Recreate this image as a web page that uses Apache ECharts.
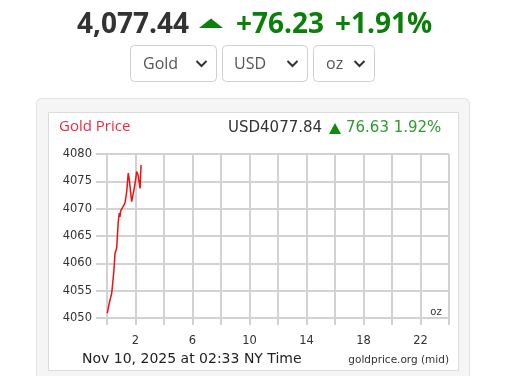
<!DOCTYPE html>
<html>
<head>
<meta charset="utf-8">
<script src="https://cdn.jsdelivr.net/npm/echarts@6/dist/echarts.min.js"></script>
<style>
  html, body { margin: 0; padding: 0; background: #fff; }
  #main { width: 513px; height: 376px; }
</style>
</head>
<body>
<div id="main"></div>
<script>
// hours since midnight NY time, and the mid price at that moment
var hours  = [0.02, 0.15, 0.33, 0.40, 0.48, 0.56, 0.68, 0.79, 0.86, 0.91, 0.96, 1.07, 1.26, 1.38, 1.49, 1.56, 1.73, 1.89, 2.02, 2.08, 2.18, 2.32, 2.39];
var prices = [4050.9, 4052.6, 4054.5, 4054.8, 4058.5, 4061.8, 4062.8, 4067.6, 4069.2, 4068.5, 4069.6, 4069.8, 4071.0, 4073.0, 4076.5, 4075.4, 4071.3, 4073.4, 4075.5, 4076.8, 4076.2, 4073.7, 4078.0];
var xLabels = [2, 6, 10, 14, 18, 22];

var lastPrice = '4,077.44', change = '+76.23', changePct = '+1.91%';
var selects = ['Gold', 'USD', 'oz'];

var chart = echarts.init(document.getElementById('main'), null, {renderer: 'canvas'});

var lineData = [];
for (var i = 0; i < hours.length; i++) lineData.push([hours[i], prices[i]]);

var gridColor = '#d2d2d2';

// dropdown boxes
var boxes = [
    {x: 130.5, w: 86, tx: 143},
    {x: 222.5, w: 85, tx: 234},
    {x: 313.5, w: 61, tx: 326}
];
var selectGraphics = [];
boxes.forEach(function(b, i){
    selectGraphics.push({
        type: 'rect', shape: {x: b.x, y: 45.5, width: b.w, height: 36, r: 4},
        style: {fill: '#fff', stroke: '#d0d0d0', lineWidth: 1}
    });
    selectGraphics.push({
        type: 'text', style: {text: selects[i], x: b.tx, y: 64, fill: '#555',
            font: '16px "Open Sans"', textVerticalAlign: 'middle'}
    });
    var cx = b.x + b.w - 15;
    selectGraphics.push({
        type: 'polyline', shape: {points: [[cx - 5, 61], [cx, 66], [cx + 5, 61]]},
        style: {stroke: '#333', lineWidth: 2, fill: null}
    });
});

var option = {
    backgroundColor: '#fff',
    animation: false,
    grid: {left: 107, right: 64, top: 154, bottom: 58},
    xAxis: {
        type: 'value', min: 0, max: 24, interval: 2,
        axisLine: {show: true, lineStyle: {color: gridColor, width: 2}},
        axisTick: {show: true, length: 7, lineStyle: {color: gridColor, width: 2}},
        splitLine: {show: true, lineStyle: {color: gridColor, width: 2}},
        axisLabel: {
            margin: 17, color: '#333', fontSize: 11.5, fontFamily: 'DejaVu Sans',
            formatter: function(v){ return xLabels.indexOf(v) >= 0 ? String(v) : ''; }
        }
    },
    yAxis: {
        type: 'value', min: 4050, max: 4080, interval: 5,
        axisLine: {show: false},
        axisTick: {show: true, length: 11, lineStyle: {color: gridColor, width: 2}},
        splitLine: {show: true, lineStyle: {color: gridColor, width: 2}},
        axisLabel: {margin: 15, color: '#333', fontSize: 11.5, fontFamily: 'DejaVu Sans',
            formatter: function(v){ return String(v); }}
    },
    series: [{
        type: 'line', data: lineData, showSymbol: false, smooth: false,
        lineStyle: {color: '#f01010', width: 1.5}, z: 5
    }],
    graphic: [
        // headline
        {type: 'text', style: {text: lastPrice, x: 77, y: 25, fill: '#333',
            font: 'bold 28px "Open Sans"', textVerticalAlign: 'middle'}},
        {type: 'polygon', shape: {points: [[199, 28], [211, 18.5], [223, 28]]},
            style: {fill: '#0a7f0a'}},
        {type: 'text', style: {text: change, x: 236, y: 25, fill: '#0a7f0a',
            font: 'bold 28px "Open Sans"', textVerticalAlign: 'middle'}},
        {type: 'text', style: {text: changePct, x: 335, y: 25, fill: '#0a7f0a',
            font: 'bold 28px "Open Sans"', textVerticalAlign: 'middle'}},
        // panel behind chart
        {type: 'rect', z: -20, shape: {x: 36.5, y: 98.5, width: 433, height: 290, r: 5},
            style: {fill: '#f5f5f5', stroke: '#e2e2e2', lineWidth: 1}},
        {type: 'rect', z: -19, shape: {x: 48.5, y: 112.5, width: 410, height: 258},
            style: {fill: '#fff', stroke: '#dcdcdc', lineWidth: 1}},
        // chart header
        {type: 'text', style: {text: 'Gold Price', x: 59, y: 127, fill: '#ee2a44',
            font: '15px "Open Sans"', textVerticalAlign: 'middle'}},
        {type: 'text', style: {text: 'USD4077.84', x: 228, y: 128, fill: '#333',
            font: '15px "DejaVu Sans"', textVerticalAlign: 'middle'}},
        {type: 'polygon', shape: {points: [[329, 134], [335, 123], [341, 134]]},
            style: {fill: '#118a11'}},
        {type: 'text', style: {text: '76.63 1.92%', x: 346, y: 128, fill: '#2f9a2f',
            font: '15px "DejaVu Sans"', textVerticalAlign: 'middle'}},
        // unit and footer
        {type: 'text', z: 10, style: {text: 'oz', x: 436, y: 312, fill: '#333',
            font: '10px "DejaVu Sans"', textAlign: 'center', textVerticalAlign: 'middle'}},
        {type: 'text', style: {text: 'Nov 10, 2025 at 02:33 NY Time', x: 82, y: 359, fill: '#222',
            font: '14px "DejaVu Sans"', textVerticalAlign: 'middle'}},
        {type: 'text', style: {text: 'goldprice.org (mid)', x: 449, y: 360, fill: '#333',
            font: '10.5px "DejaVu Sans"', textAlign: 'right', textVerticalAlign: 'middle'}}
    ].concat(selectGraphics)
};

chart.setOption(option);
</script>
</body>
</html>
